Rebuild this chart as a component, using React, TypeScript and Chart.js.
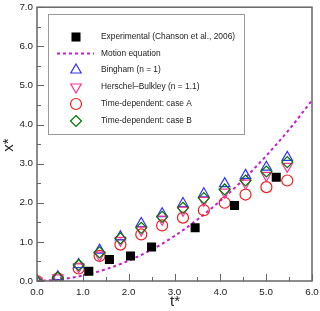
import React, { useEffect, useRef } from "react";
import { Chart, registerables } from "chart.js";

Chart.register(...registerables);

const simT = [0, 0.455, 0.91, 1.365, 1.82, 2.275, 2.73, 3.185, 3.64, 4.095, 4.55, 5.005, 5.46];
const binghamX = [0, 0.11, 0.42, 0.79, 1.13, 1.47, 1.72, 1.98, 2.23, 2.49, 2.7, 2.91, 3.16];
const hbX = [0, 0.08, 0.36, 0.66, 1.04, 1.3, 1.58, 1.81, 2.06, 2.27, 2.5, 2.7, 2.93];
const caseAX = [0, 0.07, 0.32, 0.64, 0.93, 1.19, 1.42, 1.62, 1.81, 2.0, 2.21, 2.4, 2.57];
const caseBX = [0, 0.09, 0.41, 0.73, 1.09, 1.36, 1.64, 1.87, 2.12, 2.34, 2.57, 2.8, 3.04];

const expT = [1.13, 1.58, 2.04, 2.5, 3.45, 4.31, 5.22];
const expX = [0.25, 0.55, 0.64, 0.87, 1.36, 1.93, 2.65];

const motionT = [0, 0.5, 1.0, 1.5, 2.0, 2.5, 3.0, 3.5, 4.0, 4.5, 5.0, 5.5, 6.0];
const motionX = [0, 0.04, 0.14, 0.3, 0.52, 0.8, 1.15, 1.57, 2.05, 2.59, 3.2, 3.87, 4.62];

const xTicks = [0, 1, 2, 3, 4, 5, 6];
const yTicks = [0, 1, 2, 3, 4, 5, 6, 7];

const legendLabels = [
  "Experimental (Chanson et al., 2006)",
  "Motion equation",
  "Bingham (n = 1)",
  "Herschel\u2013Bulkley (n = 1.1)",
  "Time-dependent: case A",
  "Time-dependent: case B",
];

const FONT = "'Liberation Sans', Arial, Helvetica, sans-serif";
const MAGENTA = "#c81ec8";

const pts = (xs: number[], ys: number[]) => xs.map((x, i) => ({ x, y: ys[i] }));

function drawPoint(ctx: CanvasRenderingContext2D, style: string, r: number, x: number, y: number, rot: number) {
  ctx.beginPath();
  if (style === "rect") {
    const s = Math.SQRT1_2 * r;
    ctx.rect(x - s, y - s, 2 * s, 2 * s);
    ctx.fill();
    return;
  }
  if (style === "circle") {
    ctx.arc(x, y, r, 0, Math.PI * 2);
    ctx.stroke();
    return;
  }
  if (style === "rectRot") {
    ctx.moveTo(x, y - r);
    ctx.lineTo(x + r, y);
    ctx.lineTo(x, y + r);
    ctx.lineTo(x - r, y);
    ctx.closePath();
    ctx.stroke();
    return;
  }
  if (style === "triangle") {
    const rad = (rot * Math.PI) / 180;
    for (let k = 0; k < 3; k++) {
      const ang = rad - Math.PI / 2 + (k * 2 * Math.PI) / 3;
      const px = x + Math.cos(ang) * r;
      const py = y + Math.sin(ang) * r;
      if (k === 0) ctx.moveTo(px, py);
      else ctx.lineTo(px, py);
    }
    ctx.closePath();
    ctx.stroke();
  }
}

const framePlugin = {
  id: "frame",
  afterDraw(chart: any) {
    const { ctx, chartArea: a, scales } = chart;
    const xs = scales.x;
    const ys = scales.y;
    ctx.save();
    ctx.strokeStyle = "#666";
    ctx.lineWidth = 1;
    ctx.beginPath();
    for (let v = 0; v <= 6.001; v += 0.5) {
      const px = Math.round(xs.getPixelForValue(v)) + 0.5;
      const len = Math.abs(v - Math.round(v)) < 1e-6 ? 7 : 4;
      ctx.moveTo(px, a.bottom);
      ctx.lineTo(px, a.bottom - len);
    }
    for (let v = 0; v <= 7.001; v += 0.5) {
      const py = Math.round(ys.getPixelForValue(v)) + 0.5;
      const len = Math.abs(v - Math.round(v)) < 1e-6 ? 7 : 4;
      ctx.moveTo(a.left, py);
      ctx.lineTo(a.left + len, py);
    }
    ctx.stroke();
    ctx.strokeStyle = "#666";
    ctx.lineWidth = 1.5;
    ctx.strokeRect(a.left, a.top, a.right - a.left, a.bottom - a.top);

    // legend box
    const bx = 48, by = 14, bw = 196, bh = 120;
    ctx.fillStyle = "#fff";
    ctx.fillRect(bx, by, bw, bh);
    ctx.strokeStyle = "#999";
    ctx.lineWidth = 1;
    ctx.strokeRect(bx + 0.5, by + 0.5, bw, bh);

    const rows = [37, 53.5, 70, 87, 104, 121];
    const mx = 76;
    ctx.font = "8.4px " + FONT;
    ctx.fillStyle = "#222";
    ctx.textBaseline = "middle";
    ctx.textAlign = "left";
    legendLabels.forEach((lab, i) => ctx.fillText(lab, 101, rows[i]));

    const ds = chart.data.datasets;
    ds.forEach((d: any, i: number) => {
      const y = rows[i];
      ctx.save();
      if (d.showLine) {
        ctx.strokeStyle = d.borderColor;
        ctx.lineWidth = d.borderWidth;
        ctx.setLineDash(d.borderDash);
        ctx.beginPath();
        ctx.moveTo(57, y);
        ctx.lineTo(94, y);
        ctx.stroke();
      } else {
        ctx.fillStyle = d.pointBackgroundColor;
        ctx.strokeStyle = d.pointBorderColor;
        ctx.lineWidth = d.pointBorderWidth;
        drawPoint(ctx, d.pointStyle, d.pointRadius, mx, y, d.pointRotation || 0);
      }
      ctx.restore();
    });

    // axis titles
    ctx.fillStyle = "#222";
    ctx.font = "15px " + FONT;
    ctx.textAlign = "center";
    ctx.textBaseline = "middle";
    ctx.fillText("t*", 175, 302);
    ctx.save();
    ctx.translate(9, 145);
    ctx.rotate(-Math.PI / 2);
    ctx.fillText("x*", 0, 0);
    ctx.restore();
    ctx.restore();
  },
};

export default function App() {
  const ref = useRef<HTMLCanvasElement>(null);
  useEffect(() => {
    if (!ref.current) return;
    const chart = new Chart(ref.current, {
      type: "scatter",
      data: {
        datasets: [
          {
            label: legendLabels[0],
            data: pts(expT, expX),
            pointStyle: "rect",
            pointRadius: 6.4,
            pointBackgroundColor: "#000",
            pointBorderColor: "#000",
            pointBorderWidth: 0,
            showLine: false,
            order: 0,
          } as any,
          {
            label: legendLabels[1],
            data: pts(motionT, motionX),
            showLine: true,
            borderColor: MAGENTA,
            borderWidth: 2,
            borderDash: [3, 3],
            pointRadius: 0,
            cubicInterpolationMode: "monotone",
            order: 6,
          },
          {
            label: legendLabels[2],
            data: pts(simT, binghamX),
            pointStyle: "triangle",
            pointRadius: 6,
            pointBackgroundColor: "rgba(0,0,0,0)",
            pointBorderColor: "#3333ff",
            pointBorderWidth: 1.2,
            showLine: false,
            order: 4,
          },
          {
            label: legendLabels[3],
            data: pts(simT, hbX),
            pointStyle: "triangle",
            pointRotation: 180,
            pointRadius: 6,
            pointBackgroundColor: "rgba(0,0,0,0)",
            pointBorderColor: "#ff3399",
            pointBorderWidth: 1.2,
            showLine: false,
            order: 3,
          },
          {
            label: legendLabels[4],
            data: pts(simT, caseAX),
            pointStyle: "circle",
            pointRadius: 5.5,
            pointBackgroundColor: "rgba(0,0,0,0)",
            pointBorderColor: "#ee1c1c",
            pointBorderWidth: 1.2,
            showLine: false,
            order: 5,
          },
          {
            label: legendLabels[5],
            data: pts(simT, caseBX),
            pointStyle: "rectRot",
            pointRadius: 5.5,
            pointBackgroundColor: "rgba(0,0,0,0)",
            pointBorderColor: "#007700",
            pointBorderWidth: 1.2,
            showLine: false,
            order: 2,
          },
        ],
      },
      options: {
        animation: false,
        responsive: true,
        maintainAspectRatio: false,
        layout: { padding: { left: 0, top: 6, right: 8, bottom: 0 } },
        plugins: { legend: { display: false }, tooltip: { enabled: false } },
        scales: {
          x: {
            type: "linear",
            min: 0,
            max: 6,
            afterFit: (s: any) => {
              s.height = 30;
              s.paddingLeft = 0;
              s.paddingRight = 0;
            },
            afterBuildTicks: (s: any) => {
              s.ticks = xTicks.map((v) => ({ value: v }));
            },
            ticks: {
              callback: (v: any) => Number(v).toFixed(1),
              padding: 5,
              color: "#222",
              font: { size: 9.8, family: FONT },
              maxRotation: 0,
              autoSkip: false,
            },
            grid: { display: false, drawTicks: false },
            border: { display: false },
          },
          y: {
            type: "linear",
            min: 0,
            max: 7,
            afterFit: (s: any) => {
              s.width = 37;
              s.paddingTop = 0;
              s.paddingBottom = 0;
            },
            afterBuildTicks: (s: any) => {
              s.ticks = yTicks.map((v) => ({ value: v }));
            },
            ticks: {
              callback: (v: any) => Number(v).toFixed(1),
              padding: 4,
              color: "#222",
              font: { size: 9.8, family: FONT },
              autoSkip: false,
            },
            grid: { display: false, drawTicks: false },
            border: { display: false },
          },
        },
      },
      plugins: [framePlugin],
    });
    return () => chart.destroy();
  }, []);
  return (
    <div style={{ position: "fixed", left: 0, top: 0, width: 320, height: 311, background: "#fff" }}>
      <canvas ref={ref} />
    </div>
  );
}
